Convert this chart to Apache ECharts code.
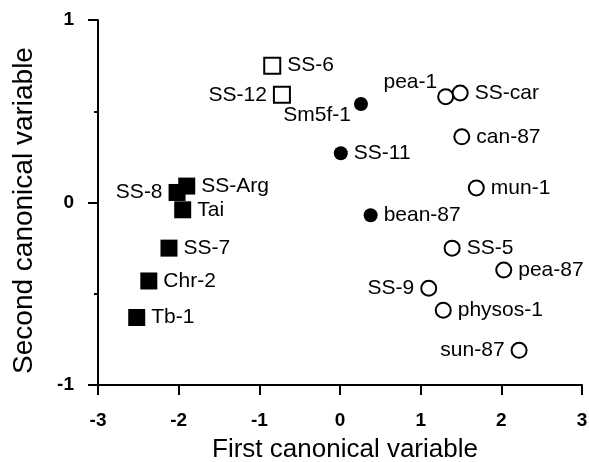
<!DOCTYPE html>
<html>
<head>
<meta charset="utf-8">
<script src="https://cdn.jsdelivr.net/npm/echarts@6/dist/echarts.min.js"></script>
<style>
  html, body { margin: 0; padding: 0; background: #fff; }
  #chart { width: 589px; height: 462px; }
</style>
</head>
<body>
<div id="chart"></div>
<script>
// points: [first canonical, second canonical, name]
const filledSquares = [
  [-1.90, 0.09, 'SS-Arg'],
  [-2.02, 0.055, 'SS-8'],
  [-1.95, -0.04, 'Tai'],
  [-2.12, -0.25, 'SS-7'],
  [-2.37, -0.43, 'Chr-2'],
  [-2.52, -0.63, 'Tb-1']
]
const openSquares = [
  [-0.84, 0.75, 'SS-6'],
  [-0.72, 0.59, 'SS-12']
]
const filledCircles = [
  [0.26, 0.54, 'Sm5f-1'],
  [0.01, 0.27, 'SS-11'],
  [0.38, -0.07, 'bean-87']
]
const openCircles = [
  [1.31, 0.58, 'pea-1'],
  [1.49, 0.60, 'SS-car'],
  [1.51, 0.36, 'can-87'],
  [1.69, 0.08, 'mun-1'],
  [1.39, -0.25, 'SS-5'],
  [2.03, -0.37, 'pea-87'],
  [1.10, -0.47, 'SS-9'],
  [1.28, -0.59, 'physos-1'],
  [2.22, -0.81, 'sun-87']
]
const xTicks = [-3, -2, -1, 0, 1, 2, 3]
const yTicks = [-1, 0, 1]

// where a label sits relative to its marker (default right)
const labelPlace = {
  'SS-8': 'left',
  'SS-12': 'left',
  'SS-9': 'left',
  'sun-87': 'left',
  'pea-1': { position: 'left', offset: [6, -14] },
  'Sm5f-1': { position: 'left', offset: [3, 11] }
}

const font = 'Liberation Sans, Arial, Helvetica, sans-serif'

function toData(list) {
  return list.map(p => {
    const place = labelPlace[p[2]]
    const item = { value: [p[0], p[1]], name: p[2] }
    if (place) {
      item.label = typeof place === 'string' ? { position: place } : place
    }
    return item
  })
}

function makeSeries(list, symbol, size, filled) {
  return {
    type: 'scatter',
    data: toData(list),
    symbol: symbol,
    symbolSize: size,
    itemStyle: {
      color: filled ? '#000' : '#fff',
      borderColor: '#000',
      borderWidth: filled ? 0 : 2,
      opacity: 1
    },
    label: {
      show: true,
      position: 'right',
      distance: 6,
      formatter: '{b}',
      color: '#000',
      fontSize: 21,
      fontFamily: font
    },
    emphasis: { disabled: true },
    z: 3
  }
}

const chart = echarts.init(document.getElementById('chart'))
chart.setOption({
  backgroundColor: '#fff',
  animation: false,
  grid: { left: 98, right: 7, top: 20, bottom: 77, outerBoundsMode: 'none' },
  xAxis: {
    type: 'value',
    min: xTicks[0],
    max: xTicks[xTicks.length - 1],
    interval: 1,
    name: 'First canonical variable',
    nameLocation: 'middle',
    nameGap: 52,
    nameTextStyle: { fontSize: 26, color: '#000', fontFamily: font, padding: [0, 0, 0, 10] },
    axisLine: { show: true, onZero: false, lineStyle: { color: '#000', width: 2 } },
    axisTick: { show: true, inside: false, length: 10, lineStyle: { color: '#000', width: 2 } },
    axisLabel: { color: '#000', fontSize: 19, fontWeight: 'bold', fontFamily: font, margin: 26,
      formatter: v => xTicks.includes(v) ? String(v) : '' },
    splitLine: { show: false }
  },
  yAxis: {
    type: 'value',
    min: yTicks[0],
    max: yTicks[yTicks.length - 1],
    interval: 1,
    name: 'Second canonical variable',
    nameLocation: 'middle',
    nameGap: 60,
    nameTextStyle: { fontSize: 28, color: '#000', fontFamily: font, padding: [0, 16, 0, 0] },
    axisLine: { show: true, onZero: false, lineStyle: { color: '#000', width: 2 } },
    axisTick: { show: true, inside: false, length: 10, lineStyle: { color: '#000', width: 2 } },
    minorTick: { show: true, splitNumber: 2, length: 4, lineStyle: { color: '#000', width: 2 } },
    axisLabel: { color: '#000', fontSize: 19, fontWeight: 'bold', fontFamily: font, margin: 24,
      formatter: v => yTicks.includes(v) ? String(v) : '' },
    splitLine: { show: false },
    minorSplitLine: { show: false }
  },
  series: [
    makeSeries(filledSquares, 'rect', 17, true),
    makeSeries(openSquares, 'rect', 16, false),
    makeSeries(filledCircles, 'circle', 14, true),
    makeSeries(openCircles, 'circle', 15, false)
  ]
})
</script>
</body>
</html>
